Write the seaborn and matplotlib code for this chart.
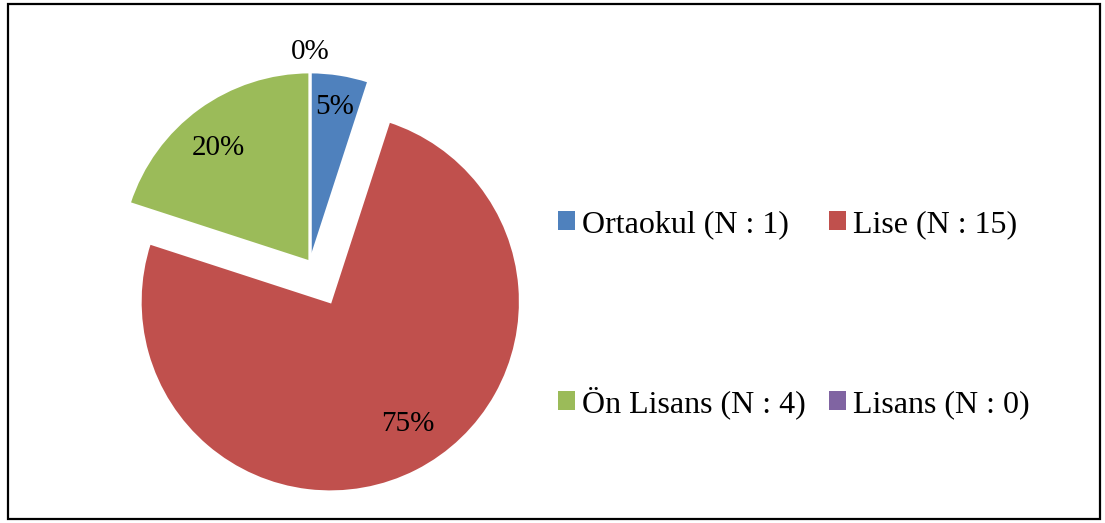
import numpy as np
import matplotlib
matplotlib.use('Agg')
import matplotlib.pyplot as plt
import seaborn as sns
from matplotlib.patches import Rectangle, Patch

# veriler: eğitim durumu
kategoriler = ['Ortaokul', 'Lise', 'Ön Lisans', 'Lisans']
sayilar = [1, 15, 4, 0]
renkler = ['#4F81BD', '#C0504D', '#9BBB59', '#8064A2']
patlama = [0, 0.235, 0, 0]
etiket_uzaklik = [0.84, 0.75, 0.78, 1.12]
etiket_aci = [0, 6, 2, 0]

sns.set_theme(style='white')
plt.rcParams['font.family'] = ['Liberation Serif', 'DejaVu Serif']
plt.rcParams['text.color'] = 'black'

fig = plt.figure(figsize=(11.05, 5.23), dpi=100)
ax = fig.add_axes([0, 0, 1, 1])

wedges, texts, autotexts = ax.pie(sayilar, colors=renkler, explode=patlama,
                                  startangle=90, counterclock=False,
                                  autopct='%.0f%%', textprops={'fontsize': 21, 'color': 'black'},
                                  wedgeprops={'edgecolor': 'white', 'linewidth': 2},
                                  frame=False)

# yüzde etiketlerini dilimlerin ortasına yerleştir
for w, t, r, da in zip(wedges, autotexts, etiket_uzaklik, etiket_aci):
    ang = np.deg2rad((w.theta1 + w.theta2) / 2 + da)
    cx, cy = w.center
    t.set_position((cx + r * np.cos(ang), cy + r * np.sin(ang)))
    t.set_ha('center')
    t.set_va('center_baseline')

# pasta merkezi piksel (310, 262), yarıçap 190 px
R = 190
ax.set_xlim(-310 / R, (1105 - 310) / R)
ax.set_ylim(-(523 - 262) / R, 262 / R)
ax.set_aspect('auto')
ax.axis('off')

# gösterge (2x2, her öge ayrı yerleştirildi)
etiketler = [f'{k} (N : {n})' for k, n in zip(kategoriler, sayilar)]
konum = [(558, 239), (829, 239), (558, 419), (829, 419)]
for c, lab, (px, py) in zip(renkler, etiketler, konum):
    fig.legend([Patch(facecolor=c, edgecolor='none')], [lab],
               loc='lower left', bbox_to_anchor=(px / 1105, 1 - py / 523),
               frameon=False, fontsize=23, handlelength=0.53, handleheight=0.53,
               handletextpad=0.22, borderpad=0, borderaxespad=0,
               labelcolor='black')

# çerçeve
fig.patches.append(Rectangle((8 / 1105, 4 / 523), (1100 - 8) / 1105, (519 - 4) / 523,
                             transform=fig.transFigure, fill=False,
                             edgecolor='black', linewidth=1.6))

plt.savefig('out.png', dpi=100)
